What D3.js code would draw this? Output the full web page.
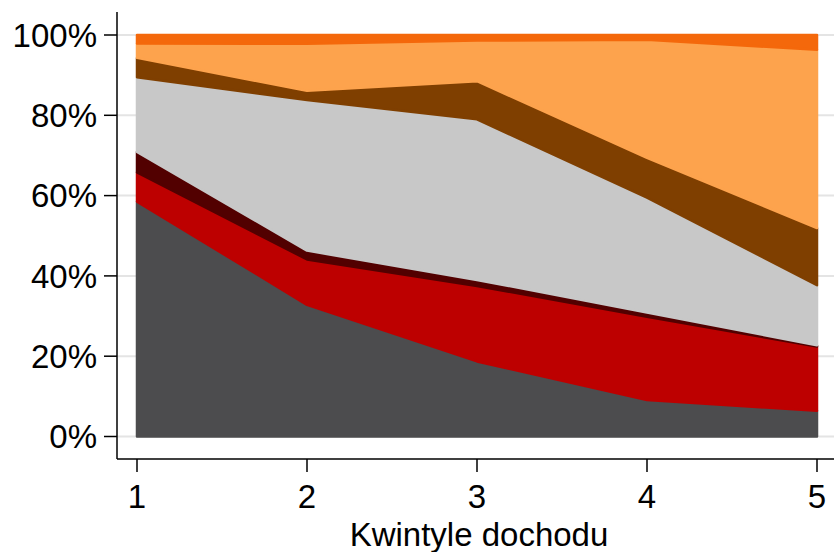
<!DOCTYPE html>
<html>
<head>
<meta charset="utf-8">
<script src="https://cdn.jsdelivr.net/npm/d3@7"></script>
<style>
  html, body { margin: 0; padding: 0; background: #fff; }
  svg { display: block; }
  text { font-family: "Liberation Sans", Arial, sans-serif; fill: #000; }
</style>
</head>
<body>
<svg id="chart" width="834" height="552"></svg>
<script>
// Income quintiles (x axis)
const quintiles = [1, 2, 3, 4, 5];
// Series shares (%) per quintile, bottom to top
const seriesNames = ["s1", "s2", "s3", "s4", "s5", "s6", "s7"];
const s1 = [58.5, 32.8, 18.7, 9.1, 6.4];
const s2 = [7.3, 11.3, 18.8, 20.7, 16.0];
const s3 = [5.1, 2.2, 1.5, 1.1, 0.3];
const s4 = [18.6, 37.5, 40.0, 28.6, 15.0];
const s5 = [4.8, 2.3, 9.5, 9.9, 14.2];
const s6 = [3.6, 11.7, 10.1, 29.4, 44.4];
const s7 = [2.1, 2.2, 1.4, 1.2, 3.7];
const seriesColors = ["#4c4c4e", "#bd0000", "#520000", "#c8c8c8", "#7f3f00", "#fda34d", "#f4680b"];
const yTicks = [0, 20, 40, 60, 80, 100];
const yTickLabels = ["0%", "20%", "40%", "60%", "80%", "100%"];
const xLabel = "Kwintyle dochodu";

const seriesValues = [s1, s2, s3, s4, s5, s6, s7];
const rows = quintiles.map((q, i) => {
  const r = { q };
  seriesNames.forEach((n, j) => { r[n] = seriesValues[j][i]; });
  return r;
});

const svg = d3.select("#chart");
const x = d3.scaleLinear().domain([1, 5]).range([137, 817]);
const y = d3.scaleLinear().domain([0, 100]).range([436.5, 35]);

// gridlines
svg.append("g")
  .selectAll("line")
  .data(yTicks)
  .join("line")
  .attr("x1", 117).attr("x2", 834)
  .attr("y1", d => y(d)).attr("y2", d => y(d))
  .attr("stroke", "#e4e4e4").attr("stroke-width", 2);

const stack = d3.stack().keys(seriesNames);
const layers = stack(rows);
const area = d3.area()
  .x(d => x(d.data.q))
  .y0(d => y(d[0]))
  .y1(d => y(d[1]));

svg.append("g")
  .selectAll("path")
  .data(layers)
  .join("path")
  .attr("d", area)
  .attr("fill", (d, i) => seriesColors[i])
  .attr("stroke", (d, i) => seriesColors[i])
  .attr("stroke-width", 2.5)
  .attr("stroke-linejoin", "round");

// axes
const yAxis = svg.append("g").attr("transform", "translate(117,0)");
yAxis.append("line").attr("x1", 0).attr("x2", 0).attr("y1", 12).attr("y2", 459)
  .attr("stroke", "#000").attr("stroke-width", 1.5);
yAxis.selectAll(".tick")
  .data(yTicks)
  .join("line")
  .attr("x1", -13).attr("x2", 0)
  .attr("y1", d => y(d)).attr("y2", d => y(d))
  .attr("stroke", "#000").attr("stroke-width", 1.5);
yAxis.selectAll("text")
  .data(yTicks)
  .join("text")
  .attr("x", -20)
  .attr("y", d => y(d))
  .attr("dy", "0.36em")
  .attr("text-anchor", "end")
  .style("font-size", "33px")
  .text((d, i) => yTickLabels[i]);

const xAxis = svg.append("g").attr("transform", "translate(0,459)");
xAxis.append("line").attr("x1", 117).attr("x2", 834).attr("y1", 0).attr("y2", 0)
  .attr("stroke", "#000").attr("stroke-width", 1.5);
xAxis.selectAll(".tk")
  .data(quintiles)
  .join("line")
  .attr("x1", d => x(d)).attr("x2", d => x(d))
  .attr("y1", 0).attr("y2", 13)
  .attr("stroke", "#000").attr("stroke-width", 1.5);
xAxis.selectAll("text")
  .data(quintiles)
  .join("text")
  .attr("x", d => x(d))
  .attr("y", 49)
  .attr("text-anchor", "middle")
  .style("font-size", "33px")
  .text(d => d);

svg.append("text")
  .attr("x", 479)
  .attr("y", 546)
  .attr("text-anchor", "middle")
  .style("font-size", "33px")
  .text(xLabel);
</script>
</body>
</html>
